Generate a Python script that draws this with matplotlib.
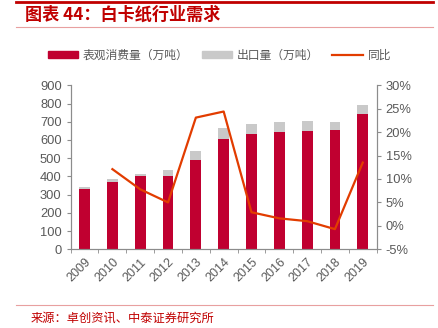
import numpy as np
import matplotlib.pyplot as plt
from matplotlib.lines import Line2D
from matplotlib.patches import Patch

plt.rcParams['font.family'] = ['Liberation Sans', 'Noto Sans CJK SC', 'DejaVu Sans']

# data
years = ['2009', '2010', '2011', '2012', '2013', '2014', '2015', '2016', '2017', '2018', '2019']
consumption = [329, 371, 400, 404, 492, 607, 635, 642, 651, 655, 743]
total_height = [344, 388, 413, 437, 538, 666, 686, 697, 704, 699, 794]
export = [t - c for t, c in zip(total_height, consumption)]
yoy_years = years[1:]
yoy = [12.1, 7.8, 5.0, 23.1, 24.4, 2.9, 1.6, 1.0, -0.7, 13.5]

red = '#C00030'
grey = '#C9C9C9'
orange = '#E23C00'
txt = '#595959'
axcol = '#8C8C8C'

fig = plt.figure(figsize=(4.39, 3.28), dpi=100)
ax = fig.add_axes([0.161, 0.240, 0.697, 0.500])
x = np.arange(len(years))
ax.bar(x, consumption, width=0.39, color=red, zorder=2)
ax.bar(x, export, width=0.39, bottom=consumption, color=grey, zorder=2)
ax.set_ylim(0, 900)
ax.set_yticks(range(0, 901, 100))
ax.set_xlim(-0.5, len(years) - 0.5)
ax.set_xticks(x)
ax.set_xticklabels(years, rotation=45, ha='right', rotation_mode='anchor')
ax.set_xticks(np.arange(-0.5, len(years), 1), minor=True)
ax.tick_params(axis='x', which='major', length=0, pad=5, labelsize=9, colors=txt)
ax.tick_params(axis='x', which='minor', length=3, color=axcol, direction='out')
ax.tick_params(axis='y', length=3, color=axcol, labelsize=9.3, labelcolor=txt)

ax2 = ax.twinx()
ax2.plot([years.index(y) for y in yoy_years], yoy, color=orange, lw=1.6, zorder=3)
ax2.set_ylim(-5, 30)
ax2.set_yticks(range(-5, 31, 5))
ax2.set_yticklabels(['%d%%' % v for v in range(-5, 31, 5)])
ax2.tick_params(axis='y', length=3, color=axcol, labelsize=9.3, labelcolor=txt)

for a in (ax, ax2):
    a.spines['top'].set_visible(False)
    for s in ('left', 'right', 'bottom'):
        a.spines[s].set_color(axcol)

handles = [Patch(color=red), Patch(color=grey), Line2D([], [], color=orange, lw=1.6)]
labels = ['表观消费量（万吨）', '出口量（万吨）', '同比']
fig.legend(handles, labels, loc='center', bbox_to_anchor=(0.5, 0.832), ncol=3,
           frameon=False, prop={'family': ['Noto Sans CJK SC'], 'size': 8.5},
           labelcolor=txt, handlelength=2.6, handleheight=0.6, columnspacing=1.1,
           handletextpad=0.4)

# header / footer decoration
fig.add_artist(Line2D([16 / 439, 433 / 439], [1 - 1.5 / 328] * 2, color='#C00000', lw=2))
fig.add_artist(Line2D([16 / 439, 433 / 439], [1 - 27 / 328] * 2, color='#E8A0A0', lw=0.8))
fig.add_artist(Line2D([16 / 439, 433 / 439], [1 - 305 / 328] * 2, color='#E8A0A0', lw=0.8))
fig.text(25 / 439, 1 - 15 / 328, '图表 44：白卡纸行业需求', color='#C00000', fontsize=12.3,
         fontweight='bold', fontstyle='italic', va='center', ha='left',
         family=['Noto Sans CJK SC', 'DejaVu Sans'])
fig.text(31 / 439, 1 - 318 / 328, '来源：卓创资讯、中泰证券研究所', color='#C00000', fontsize=8.8,
         va='center', ha='left', family=['Noto Sans CJK SC', 'DejaVu Sans'])

fig.savefig('out.png', dpi=100)
